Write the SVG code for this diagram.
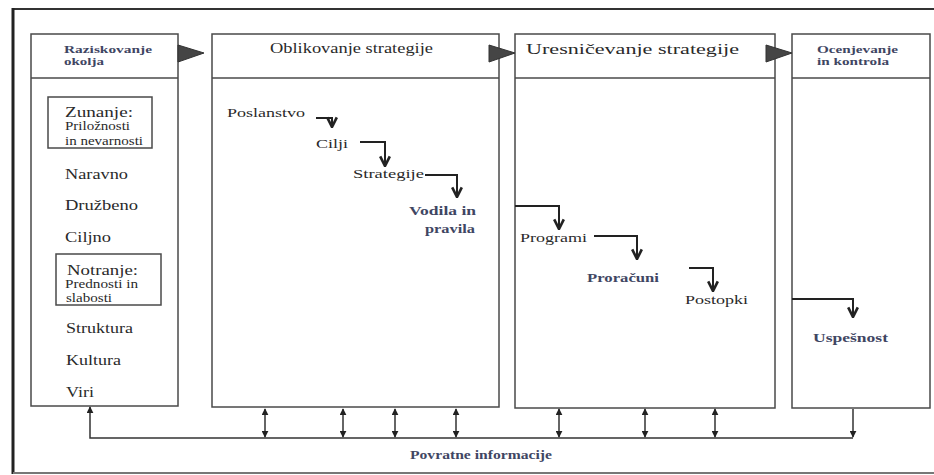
<svg xmlns="http://www.w3.org/2000/svg" width="934" height="475" viewBox="0 0 934 475">
<style>
text{font-family:"Liberation Serif","DejaVu Serif","Times New Roman",serif;fill:#2a2a2a}
.b{font-weight:bold}
.c{fill:#3f4663}
.box{fill:#fff;stroke:#4a4a4a;stroke-width:1.5}
.sub{fill:none;stroke:#4a4a4a;stroke-width:1.5}
.flow{fill:none;stroke:#222;stroke-width:2}
.fb{fill:none;stroke:#333;stroke-width:1.5}
.tri{fill:#454545;stroke:#333;stroke-width:1}
</style>
<defs>
<marker id="v" viewBox="0 0 10 10" refX="9" refY="5" markerWidth="12" markerHeight="12" markerUnits="userSpaceOnUse" orient="auto">
<path d="M1,1 L9,5 L1,9" fill="none" stroke="#222" stroke-width="2.2"/>
</marker>
<marker id="h" viewBox="0 0 10 10" refX="9" refY="5" markerWidth="7" markerHeight="7" markerUnits="userSpaceOnUse" orient="auto-start-reverse">
<path d="M0,0 L10,5 L0,10 Z" fill="#222"/>
</marker>
</defs>
<rect width="934" height="475" fill="#fff"/>
<g id="frame">
<line x1="13" y1="9" x2="934" y2="9" stroke="#333" stroke-width="2"/>
<line x1="13" y1="8" x2="13" y2="474" stroke="#222" stroke-width="3"/>
<line x1="13" y1="473" x2="934" y2="473" stroke="#777" stroke-width="2"/>
</g>
<g font-family="Liberation Serif, DejaVu Serif, serif">
<g id="raziskovanje">
<rect class="box" x="31" y="34" width="147" height="372"/>
<line class="sub" x1="31" y1="78" x2="178" y2="78"/>
<text class="b c" x="64" y="53" font-size="11" textLength="88" lengthAdjust="spacingAndGlyphs">Raziskovanje</text>
<text class="b c" x="64" y="65" font-size="11" textLength="40" lengthAdjust="spacingAndGlyphs">okolja</text>
<rect class="sub" x="48" y="97" width="104" height="51"/>
<text x="65" y="117" font-size="14" textLength="68" lengthAdjust="spacingAndGlyphs">Zunanje:</text>
<text x="65" y="130" font-size="12" textLength="65" lengthAdjust="spacingAndGlyphs">Priložnosti</text>
<text x="65" y="145" font-size="12" textLength="78" lengthAdjust="spacingAndGlyphs">in nevarnosti</text>
<text x="65" y="179" font-size="14" textLength="63" lengthAdjust="spacingAndGlyphs">Naravno</text>
<text x="65" y="210" font-size="14" textLength="73" lengthAdjust="spacingAndGlyphs">Družbeno</text>
<text x="65" y="242" font-size="14" textLength="46" lengthAdjust="spacingAndGlyphs">Ciljno</text>
<rect class="sub" x="56" y="254" width="105" height="51"/>
<text x="67" y="275" font-size="14" textLength="71" lengthAdjust="spacingAndGlyphs">Notranje:</text>
<text x="65" y="288" font-size="12" textLength="73" lengthAdjust="spacingAndGlyphs">Prednosti in</text>
<text x="66" y="302" font-size="12" textLength="46" lengthAdjust="spacingAndGlyphs">slabosti</text>
<text x="66" y="333" font-size="14" textLength="67" lengthAdjust="spacingAndGlyphs">Struktura</text>
<text x="66" y="365" font-size="14" textLength="55" lengthAdjust="spacingAndGlyphs">Kultura</text>
<text x="66" y="397" font-size="14" textLength="28" lengthAdjust="spacingAndGlyphs">Viri</text>
</g>
<g id="oblikovanje">
<rect class="box" x="212" y="34" width="287" height="373"/>
<line class="sub" x1="212" y1="78" x2="499" y2="78"/>
<text x="270" y="53" font-size="14" textLength="163" lengthAdjust="spacingAndGlyphs">Oblikovanje strategije</text>
<text x="227" y="117" font-size="13" textLength="78" lengthAdjust="spacingAndGlyphs">Poslanstvo</text>
<text x="316" y="148" font-size="13" textLength="32" lengthAdjust="spacingAndGlyphs">Cilji</text>
<text x="353" y="178" font-size="13" textLength="71" lengthAdjust="spacingAndGlyphs">Strategije</text>
<text class="b c" x="409" y="215" font-size="13" textLength="67" lengthAdjust="spacingAndGlyphs">Vodila in</text>
<text class="b c" x="425" y="233" font-size="13" textLength="50" lengthAdjust="spacingAndGlyphs">pravila</text>
</g>
<g id="uresnicevanje">
<rect class="box" x="515" y="34" width="260" height="374"/>
<line class="sub" x1="515" y1="78" x2="775" y2="78"/>
<text x="526" y="54" font-size="14" textLength="213" lengthAdjust="spacingAndGlyphs">Uresničevanje strategije</text>
<text x="520" y="242" font-size="13" textLength="67" lengthAdjust="spacingAndGlyphs">Programi</text>
<text class="b c" x="587" y="282" font-size="12" textLength="72" lengthAdjust="spacingAndGlyphs">Proračuni</text>
<text x="685" y="304" font-size="13" textLength="63" lengthAdjust="spacingAndGlyphs">Postopki</text>
</g>
<g id="ocenjevanje">
<rect class="box" x="792" y="34" width="138" height="374"/>
<line class="sub" x1="792" y1="78" x2="930" y2="78"/>
<text class="b c" x="817" y="53" font-size="11" textLength="81" lengthAdjust="spacingAndGlyphs">Ocenjevanje</text>
<text class="b c" x="817" y="65" font-size="11" textLength="72" lengthAdjust="spacingAndGlyphs">in kontrola</text>
<text class="b c" x="813" y="342" font-size="13" textLength="75" lengthAdjust="spacingAndGlyphs">Uspešnost</text>
</g>
<g id="connectors">
<polygon class="tri" points="178,45 204,53 178,62"/>
<polygon class="tri" points="489,45 515,53 489,62"/>
<polygon class="tri" points="766,45 792,53 766,62"/>
<polyline class="flow" points="316,118 332,118 332,127" marker-end="url(#v)"/>
<polyline class="flow" points="360,142 385,142 385,166" marker-end="url(#v)"/>
<polyline class="flow" points="425,175 457,175 457,197" marker-end="url(#v)"/>
<polyline class="flow" points="515,206 559,206 559,229" marker-end="url(#v)"/>
<polyline class="flow" points="594,236 637,236 637,259" marker-end="url(#v)"/>
<polyline class="flow" points="689,268 713,268 713,291" marker-end="url(#v)"/>
<polyline class="flow" points="792,299 853,299 853,317" marker-end="url(#v)"/>
<polyline class="fb" points="853,438 90,438 90,407" marker-end="url(#h)"/>
<line class="fb" x1="853" y1="409" x2="853" y2="437" marker-end="url(#h)"/>
<line class="fb" x1="265" y1="409" x2="265" y2="437" marker-start="url(#h)" marker-end="url(#h)"/>
<line class="fb" x1="343" y1="409" x2="343" y2="437" marker-start="url(#h)" marker-end="url(#h)"/>
<line class="fb" x1="395" y1="409" x2="395" y2="437" marker-start="url(#h)" marker-end="url(#h)"/>
<line class="fb" x1="456" y1="409" x2="456" y2="437" marker-start="url(#h)" marker-end="url(#h)"/>
<line class="fb" x1="559" y1="409" x2="559" y2="437" marker-start="url(#h)" marker-end="url(#h)"/>
<line class="fb" x1="645" y1="409" x2="645" y2="437" marker-start="url(#h)" marker-end="url(#h)"/>
<line class="fb" x1="715" y1="409" x2="715" y2="437" marker-start="url(#h)" marker-end="url(#h)"/>
<text class="b c" x="410" y="459" font-size="12" textLength="142" lengthAdjust="spacingAndGlyphs">Povratne  informacije</text>
</g>
</g>
</svg>
